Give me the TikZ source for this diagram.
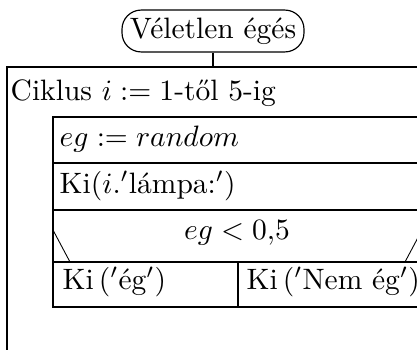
\documentclass[tikz,border=0pt]{standalone}
\begin{document}
\begin{tikzpicture}[x=0.339pt,y=-0.339pt,line width=0.5pt,
  txt/.style={anchor=base west,inner sep=0pt},
  ctxt/.style={anchor=base,inner sep=0pt},
  term/.style={draw,line width=0.4pt,rounded corners=6.5pt,minimum width=61.7pt,minimum height=14.2pt,inner sep=0pt},
  diag/.style={line width=0.3pt}]
\useasboundingbox (0,0) rectangle (417,350);
\clip (0,0) rectangle (417,350);
% start terminal
\node[term] (start) at (213,31) {V\'eletlen \'eg\'es};
\coordinate (outertop) at (213,67);
\draw (start.south) -- (outertop);
% outer loop box
\draw (7,67) rectangle (445,380);
\node[txt] (loop) at (10,100) {Ciklus $i := 1$-t\H{o}l 5-ig};
% inner body
\draw (53,117) rectangle (422,307);
\draw (53,163) -- (422,163);
\draw (53,210) -- (422,210);
\draw (53,262) -- (422,262);
\draw (238,262) -- (238,307);
\draw[diag] (53,230) -- (70,262);
\draw[diag] (422,230) -- (405,262);
\node[txt] (s1) at (59,146) {$eg := random$};
\node[txt] (s2) at (59,193) {Ki($i.{}'$l\'ampa:$'$)};
\node[ctxt] (cond) at (237,239) {$eg < 0{,}5$};
\node[txt] (yes) at (62,289) {Ki\,($'$\'eg$'$)};
\node[txt] (no) at (246,289) {Ki\,($'$Nem \'eg$'$)};
\end{tikzpicture}
\end{document}
